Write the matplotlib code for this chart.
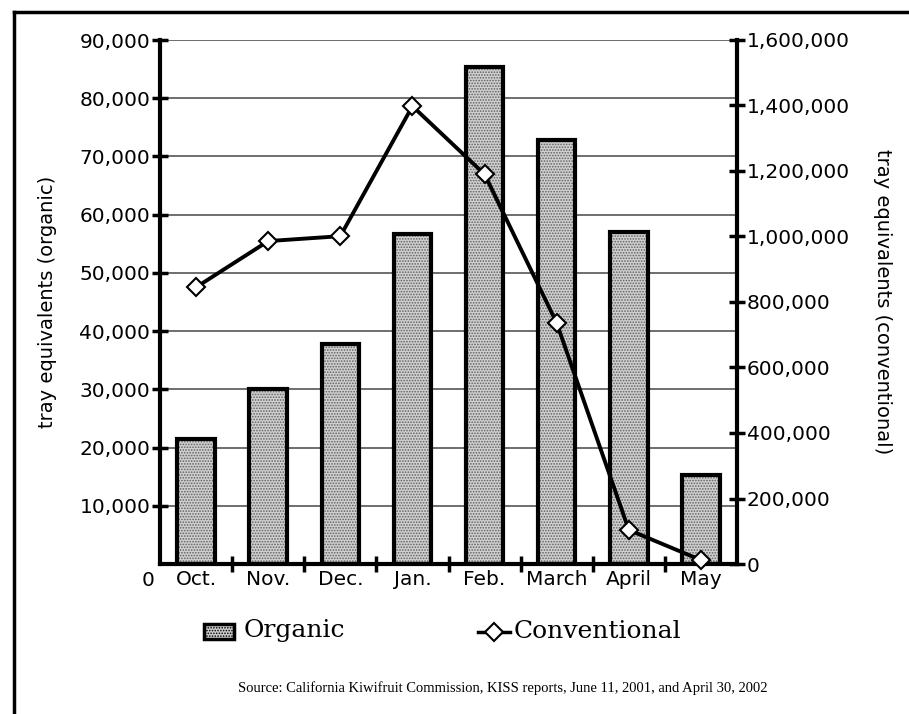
import matplotlib
matplotlib.use("Agg")
import matplotlib.pyplot as plt
from matplotlib.lines import Line2D
from matplotlib.patches import Rectangle
import numpy as np

months = ["Oct.", "Nov.", "Dec.", "Jan.", "Feb.", "March", "April", "May"]
organic = [21500, 30000, 37800, 56700, 85300, 72900, 57000, 15300]
conventional = [845000, 986000, 1001000, 1398000, 1190000, 736000, 104000, 12000]
left_ticks = [10000, 20000, 30000, 40000, 50000, 60000, 70000, 80000, 90000]
right_ticks = [0, 200000, 400000, 600000, 800000, 1000000, 1200000, 1400000, 1600000]

W, H = 909, 714
fig = plt.figure(figsize=(W / 100, H / 100), dpi=100)
fig.patch.set_facecolor("white")

sans = "DejaVu Sans"
serif = "DejaVu Serif"
plt.rcParams["hatch.linewidth"] = 0.8

ax = fig.add_axes([160 / W, 1 - 564 / H, 577 / W, 524 / H])
x = np.arange(len(months))

# stippled bars
ax.bar(x, organic, width=0.52, color="#d0d0d0", edgecolor="#606060",
       hatch="......", linewidth=0, zorder=2)
ax.bar(x, organic, width=0.52, fill=False, edgecolor="black", linewidth=3, zorder=3)

ax.set_xlim(-0.5, len(months) - 0.5)
ax.set_ylim(0, 90000)
ax.set_yticks(left_ticks)
ax.set_yticklabels([f"{v:,}" for v in left_ticks], fontsize=14.5, family=sans)
ax.yaxis.grid(True, color="#555555", linewidth=1.2, zorder=0)
ax.set_axisbelow(True)
ax.tick_params(axis="y", direction="inout", length=12, width=2.5, pad=1)

ax.set_xticks(x)
ax.set_xticklabels(months, fontsize=14.5, family=sans)
ax.set_xticks(np.arange(0.5, len(months) - 0.5, 1), minor=True)
ax.tick_params(axis="x", which="major", length=0, pad=4)
ax.tick_params(axis="x", which="minor", direction="inout", length=12, width=2.5)

for s in ["top", "right"]:
    ax.spines[s].set_visible(False)
ax.spines["left"].set_linewidth(3)
ax.spines["bottom"].set_linewidth(3)

ax.set_ylabel("tray equivalents (organic)", fontsize=14, family=sans, labelpad=16)

ax2 = ax.twinx()
ax2.plot(x, conventional, color="black", linewidth=2.8, marker="D", markersize=9,
         markerfacecolor="white", markeredgecolor="black", markeredgewidth=1.5,
         zorder=5, clip_on=False)
ax2.set_ylim(0, 1600000)
ax2.set_yticks(right_ticks)
ax2.set_yticklabels([f"{v:,}" for v in right_ticks], fontsize=14.5, family=sans)
ax2.tick_params(axis="y", direction="inout", length=12, width=2.5, pad=1)
for s in ["top", "left", "bottom"]:
    ax2.spines[s].set_visible(False)
ax2.spines["right"].set_linewidth(3)
ax2.set_ylabel("tray equivalents (conventional)", fontsize=14, family=sans,
               rotation=-90, labelpad=30)

# separate "0" label for left axis
fig.text(148 / W, 1 - 580 / H, "0", fontsize=14.5, family=sans, ha="center", va="center")

# legend
fig.patches.append(Rectangle((204 / W, 1 - 639 / H), 30 / W, 15 / H, transform=fig.transFigure,
                             facecolor="#d0d0d0", edgecolor="black", linewidth=2.5,
                             hatch="......"))
fig.text(244 / W, 1 - 631 / H, "Organic", fontsize=18, family=serif, va="center", ha="left")
fig.lines.append(Line2D([478 / W, 510 / W], [1 - 632 / H, 1 - 632 / H], transform=fig.transFigure,
                        color="black", linewidth=2.5))
fig.lines.append(Line2D([494 / W], [1 - 632 / H], transform=fig.transFigure,
                        color="black", linestyle="none", marker="D", markersize=9,
                        markerfacecolor="white", markeredgecolor="black", markeredgewidth=1.5))
fig.text(514 / W, 1 - 631 / H, "Conventional", fontsize=18, family=serif, va="center", ha="left")

fig.text(503 / W, 1 - 688 / H,
         "Source: California Kiwifruit Commission, KISS reports, June 11, 2001, and April 30, 2002",
         fontsize=10.5, family="Liberation Serif", ha="center", va="center")

# frame lines
fig.lines.append(Line2D([14 / W, 14 / W], [0, 1 - 12 / H], transform=fig.transFigure,
                        color="black", linewidth=2.5))
fig.lines.append(Line2D([14 / W, 1], [1 - 12 / H, 1 - 12 / H], transform=fig.transFigure,
                        color="black", linewidth=2.5))

fig.savefig("out.png", dpi=100, facecolor="white")
